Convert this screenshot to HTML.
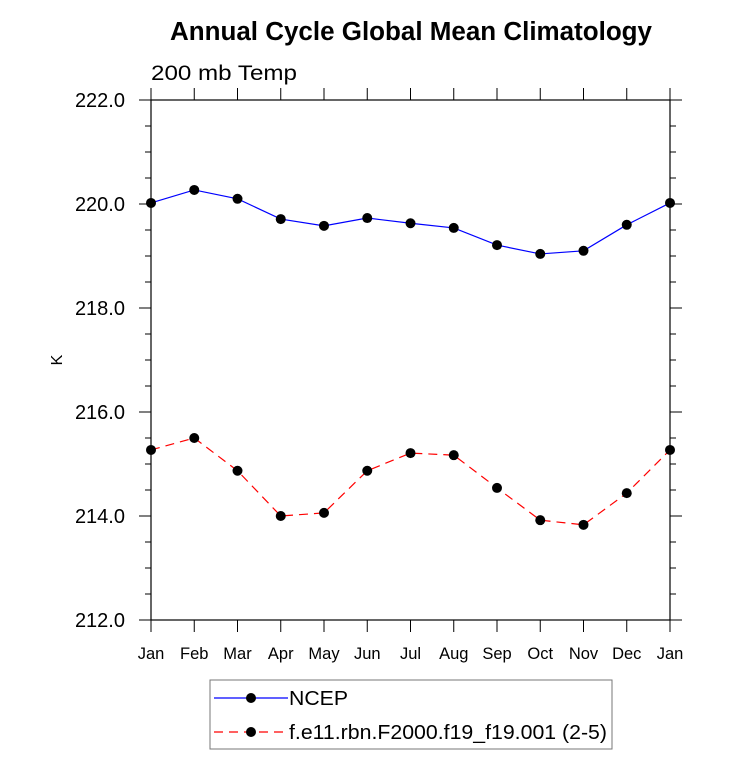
<!DOCTYPE html>
<html><head><meta charset="utf-8"><style>
body{margin:0;background:#fff}
svg{display:block;font-family:"Liberation Sans",Arial,sans-serif}
</style></head><body>
<svg id="chart" width="733" height="770">
<text x="411" y="40" text-anchor="middle" font-size="25.5" font-weight="bold" textLength="482" lengthAdjust="spacingAndGlyphs">Annual Cycle Global Mean Climatology</text>
<text x="151" y="80" font-size="21" textLength="146" lengthAdjust="spacingAndGlyphs">200 mb Temp</text>
<text transform="translate(62,360) rotate(-90)" text-anchor="middle" font-size="16">K</text>
<g id="axes"></g>
<g id="series"></g>
<rect x="210" y="680" width="402" height="69" fill="none" stroke="#777" stroke-width="1"/>
<g>
<line x1="214" y1="698" x2="288" y2="698" stroke="#0000ff" stroke-width="1.2"/>
<circle cx="251" cy="698" r="5" fill="#000"/>
<text x="289" y="705" font-size="20" textLength="59" lengthAdjust="spacingAndGlyphs">NCEP</text>
</g>
<g>
<line x1="214" y1="732" x2="288" y2="732" stroke="#ff0000" stroke-width="1.2" stroke-dasharray="9,6"/>
<circle cx="251" cy="732" r="5" fill="#000"/>
<text x="289" y="739" font-size="20" textLength="318" lengthAdjust="spacingAndGlyphs">f.e11.rbn.F2000.f19_f19.001 (2-5)</text>
</g>
</svg>
<script>
const months=["Jan","Feb","Mar","Apr","May","Jun","Jul","Aug","Sep","Oct","Nov","Dec","Jan"];
const ncep=[220.02,220.27,220.1,219.71,219.58,219.73,219.63,219.54,219.21,219.04,219.1,219.6,220.02];
const model=[215.27,215.5,214.87,214.0,214.06,214.87,215.21,215.17,214.54,213.92,213.83,214.44,215.27];
const yTicks=[212,214,216,218,220,222];
const L=151,R=670,T=100,B=620,yMin=212,yMax=222;
const sx=i=>L+(R-L)*i/(months.length-1);
const sy=v=>B-(v-yMin)/(yMax-yMin)*(B-T);
const NS="http://www.w3.org/2000/svg";
function mk(t,a,p){const e=document.createElementNS(NS,t);for(const k in a)e.setAttribute(k,a[k]);p.appendChild(e);return e;}
const ax=document.getElementById('axes'),sg=document.getElementById('series');
const frame=mk('rect',{x:L,y:T,width:R-L,height:B-T,fill:'none',stroke:'#000','stroke-width':1.2},ax);


for(let v=yMin;v<=yMax+1e-9;v+=0.5){
 const maj=Math.abs(v-Math.round(v/2)*2)<1e-6;const len=maj?12:6;const y=sy(v);
 mk('line',{x1:L-len,y1:y,x2:L,y2:y,stroke:'#000'},ax);
 mk('line',{x1:R,y1:y,x2:R+len,y2:y,stroke:'#000'},ax);
}
yTicks.forEach(v=>{const t=mk('text',{x:L-26,y:sy(v)+7,'text-anchor':'end','font-size':20},ax);t.textContent=v.toFixed(1);

});
months.forEach((m,i)=>{const x=sx(i);
 mk('line',{x1:x,y1:B,x2:x,y2:B+12,stroke:'#000'},ax);
 mk('line',{x1:x,y1:T-12,x2:x,y2:T,stroke:'#000'},ax);
 const t=mk('text',{x:x,y:B+39,'text-anchor':'middle','font-size':16.5},ax);t.textContent=m;
 
 });
function series(d,color,dash,name){
 const p=mk('polyline',{points:d.map((v,i)=>sx(i)+','+sy(v)).join(' '),fill:'none',stroke:color,'stroke-width':1.2,'stroke-dasharray':dash},sg);
 
 
 d.forEach((v,i)=>{const c=mk('circle',{cx:sx(i),cy:sy(v),r:5,fill:'#000'},sg);
 
 });
}
series(ncep,'#0000ff','none','ncep');
series(model,'#ff0000','9,6','model');
</script>
</body></html>
